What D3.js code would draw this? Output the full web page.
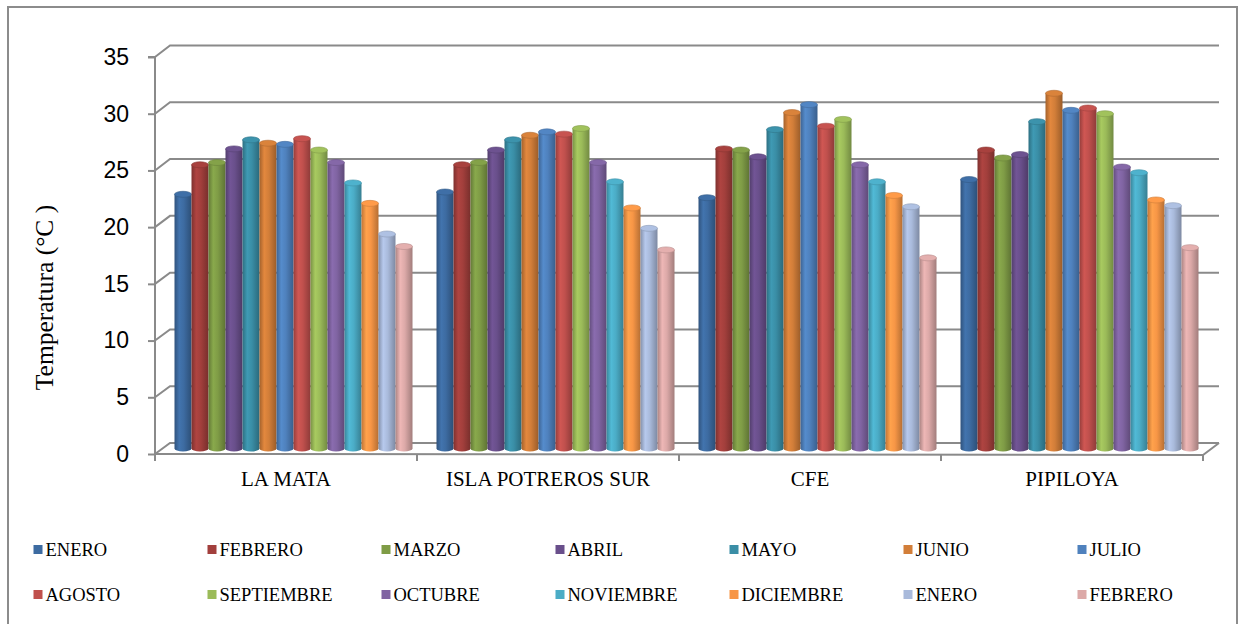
<!DOCTYPE html>
<html>
<head>
<meta charset="utf-8">
<script src="https://cdn.jsdelivr.net/npm/d3@7"></script>
<style>
  html, body { margin: 0; padding: 0; background: #fff; }
  svg { display: block; }
</style>
</head>
<body>
<div id="chart"></div>
<script>
// Estaciones (categorías del eje X)
const estaciones = ["LA MATA", "ISLA POTREROS SUR", "CFE", "PIPILOYA"];

// Meses (series), de enero a febrero del año siguiente
const meses = ["ENERO", "FEBRERO", "MARZO", "ABRIL", "MAYO", "JUNIO", "JULIO",
               "AGOSTO", "SEPTIEMBRE", "OCTUBRE", "NOVIEMBRE", "DICIEMBRE", "ENERO", "FEBRERO"];

const coloresMeses = ["#3d6ba1", "#a23f3c", "#7f9c46", "#694f8b", "#3a8ea6", "#d27e39", "#4f81bd",
                      "#c0504d", "#9bbb59", "#8064a2", "#4bacc6", "#f79646", "#a9badb", "#dca9a8"];

// Temperatura media mensual (°C) por estación, en el orden de "meses"
const laMata        = [22.4, 25.0, 25.2, 26.4, 27.2, 26.9, 26.8, 27.3, 26.3, 25.2, 23.4, 21.6, 18.9, 17.8];
const islaPotreros  = [22.6, 25.0, 25.2, 26.3, 27.2, 27.6, 27.9, 27.7, 28.2, 25.2, 23.5, 21.2, 19.4, 17.5];
const cfe           = [22.1, 26.4, 26.3, 25.7, 28.1, 29.6, 30.3, 28.4, 29.0, 25.0, 23.5, 22.3, 21.3, 16.8];
const pipiloya      = [23.7, 26.3, 25.6, 25.9, 28.8, 31.3, 29.8, 30.0, 29.5, 24.8, 24.3, 21.9, 21.4, 17.7];
const valores = [laMata, islaPotreros, cfe, pipiloya];

const yTicks = [0, 5, 10, 15, 20, 25, 30, 35];

const W = 1241, H = 624;
const svg = d3.select("#chart").append("svg").attr("width", W).attr("height", H);

// Marco exterior del gráfico
svg.append("rect")
  .attr("x", 8).attr("y", 7).attr("width", 1229).attr("height", 660)
  .attr("fill", "none").attr("stroke", "#8c8c8c").attr("stroke-width", 2);

// Profundidad 3D: desplazamiento de la pared del fondo respecto al plano frontal
const DX = 15;
const gridColor = "#8a8a8a";

// Escalas verticales: plano frontal, pared del fondo y plano medio (cilindros)
const yFront = d3.scaleLinear().domain([0, 35]).range([454, 57]);
const yBack  = d3.scaleLinear().domain([0, 35]).range([443, 45.5]);
const yMid   = d3.scaleLinear().domain([0, 35]).range([448.5, 51.3]);

// Escala de categorías sobre el borde frontal del piso
const x0 = d3.scaleBand().domain(estaciones).range([155, 1203]).padding(0);
const grupoAncho = 238;
const x1 = d3.scaleBand().domain(d3.range(meses.length)).range([0, grupoAncho]).padding(0);

const backLeft = 155 + DX, backRight = 1203 + DX + 1;

// Líneas de división en la pared del fondo con su tramo en diagonal
const grid = svg.append("g");
yTicks.forEach(t => {
  grid.append("path")
    .attr("d", `M155,${yFront(t)} L${backLeft},${yBack(t)} L${backRight},${yBack(t)}`)
    .attr("fill", "none").attr("stroke", gridColor).attr("stroke-width", 2);
});

// Borde frontal y lateral derecho del piso
grid.append("path")
  .attr("d", `M155,${yFront(0)} L1203,${yFront(0) + 1} L${backRight},${yBack(0)}`)
  .attr("fill", "none").attr("stroke", gridColor).attr("stroke-width", 2);

// Eje Y frontal con sus marcas
const yAxis = d3.axisLeft(yFront).tickValues(yTicks).tickSize(7).tickPadding(19).tickFormat(d3.format("d"));
const gy = svg.append("g").attr("transform", "translate(155,0)").call(yAxis);
gy.select(".domain").attr("stroke", gridColor).attr("stroke-width", 2)
  .attr("d", `M-7,${yFront(35)}H0V${yFront(0)}`);
gy.selectAll(".tick line").attr("stroke", gridColor).attr("stroke-width", 2);
gy.selectAll(".tick text")
  .attr("font-family", "'Liberation Sans', Arial, sans-serif")
  .attr("font-size", 23).attr("fill", "#000");

// Eje X: marcas entre categorías y etiquetas
const xAxis = d3.axisBottom(x0).tickSize(0).tickPadding(0);
const gx = svg.append("g").attr("transform", `translate(0,${yFront(0) + 1})`).call(xAxis);
gx.select(".domain").remove();
gx.selectAll(".tick text")
  .attr("font-family", "'Liberation Serif', 'Times New Roman', serif")
  .attr("font-size", 21).attr("fill", "#000")
  .attr("dy", 0).attr("y", 31);
const bordes = estaciones.map(e => x0(e)).concat([x0.range()[1]]);
svg.append("g").selectAll("line").data(bordes).join("line")
  .attr("x1", d => d).attr("x2", d => d)
  .attr("y1", yFront(0)).attr("y2", yFront(0) + 7)
  .attr("stroke", gridColor).attr("stroke-width", 2);

// Título del eje Y
svg.append("text")
  .attr("transform", `translate(53,${297.5}) rotate(-90)`)
  .attr("text-anchor", "middle")
  .attr("font-family", "'Liberation Serif', 'Times New Roman', serif")
  .attr("font-size", 25.5).attr("fill", "#000")
  .text("Temperatura (°C )");

// Degradados horizontales para simular los cilindros
const defs = svg.append("defs");
coloresMeses.forEach((c, i) => {
  const g = defs.append("linearGradient").attr("id", "cil" + i)
    .attr("x1", "0%").attr("x2", "100%").attr("y1", "0%").attr("y2", "0%");
  const base = d3.color(c);
  g.append("stop").attr("offset", "0%").attr("stop-color", base.darker(0.7));
  g.append("stop").attr("offset", "28%").attr("stop-color", base.brighter(0.22));
  g.append("stop").attr("offset", "55%").attr("stop-color", base);
  g.append("stop").attr("offset", "100%").attr("stop-color", base.darker(0.85));
});

// Cilindros
const RY = 3;
const bw = x1.bandwidth();
const grupos = svg.append("g").selectAll("g").data(estaciones).join("g")
  .attr("transform", e => `translate(${x0(e) + x0.bandwidth() / 2 + DX / 2 - grupoAncho / 2},0)`);

grupos.each(function (e, gi) {
  const g = d3.select(this);
  const datos = valores[gi].map((v, i) => ({ v, i }));
  const cil = g.selectAll("g.cil").data(datos).join("g").attr("class", "cil");
  cil.append("path")
    .attr("d", d => {
      const xl = x1(d.i), xr = xl + bw;
      const yt = yMid(d.v), yb = yMid(0);
      return `M${xl},${yt} L${xl},${yb} A${bw / 2},${RY} 0 0 0 ${xr},${yb} L${xr},${yt} Z`;
    })
    .attr("fill", d => `url(#cil${d.i})`);
  cil.append("ellipse")
    .attr("cx", d => x1(d.i) + bw / 2)
    .attr("cy", d => yMid(d.v))
    .attr("rx", bw / 2).attr("ry", RY)
    .attr("fill", d => d3.color(coloresMeses[d.i]).brighter(0.1))
    .attr("stroke", d => d3.color(coloresMeses[d.i]).darker(0.5))
    .attr("stroke-width", 0.6);
});

// Leyenda en dos filas de siete elementos
const legX = d3.scaleLinear().domain([0, 7]).range([33.5, 33.5 + 174 * 7]);
const leg = svg.append("g").selectAll("g").data(meses.map((m, i) => ({ m, i }))).join("g")
  .attr("transform", d => `translate(${legX(d.i % 7)},${d.i < 7 ? 549.5 : 594.5})`);
leg.append("rect")
  .attr("x", 0).attr("y", -4.5).attr("width", 9).attr("height", 9)
  .attr("fill", d => coloresMeses[d.i]);
leg.append("text")
  .attr("x", 12).attr("y", 6.5)
  .attr("font-family", "'Liberation Serif', 'Times New Roman', serif")
  .attr("font-size", 18.5).attr("fill", "#000")
  .text(d => d.m);
</script>
</body>
</html>
